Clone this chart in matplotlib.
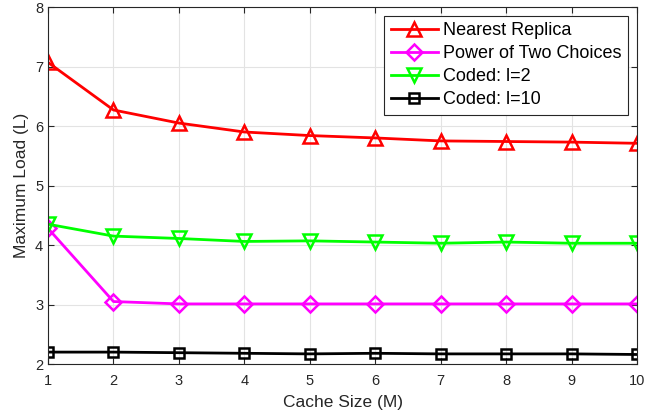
import matplotlib.pyplot as plt

plt.rcParams['font.family'] = ['Liberation Sans', 'DejaVu Sans']

cache_size = [1, 2, 3, 4, 5, 6, 7, 8, 9, 10]
nearest_replica = [7.07, 6.27, 6.05, 5.90, 5.84, 5.80, 5.75, 5.74, 5.73, 5.71]
power_two = [4.28, 3.05, 3.01, 3.01, 3.01, 3.01, 3.01, 3.01, 3.01, 3.01]
coded_l2 = [4.35, 4.15, 4.11, 4.06, 4.07, 4.05, 4.03, 4.05, 4.03, 4.03]
coded_l10 = [2.20, 2.20, 2.19, 2.18, 2.17, 2.18, 2.17, 2.17, 2.17, 2.16]

fig = plt.figure(figsize=(6.67, 4.16), dpi=100)
ax = fig.add_axes([0.072, 0.125, 0.883, 0.858])

mk = dict(linewidth=2, markersize=10, markerfacecolor='none', markeredgewidth=1.8)
ax.plot(cache_size, nearest_replica, '-^', color='#ff0000', label='Nearest Replica', **mk)
ax.plot(cache_size, power_two, '-D', color='#ff00ff', label='Power of Two Choices',
        **{**mk, 'markersize': 8})
ax.plot(cache_size, coded_l2, '-v', color='#00ff00', label='Coded: l=2', **mk)
ax.plot(cache_size, coded_l10, '-s', color='#000000', label='Coded: l=10',
        **{**mk, 'markersize': 7})

ax.set_xlim(1, 10)
ax.set_ylim(2, 8)
ax.set_xticks(range(1, 11))
ax.set_yticks(range(2, 9))
ax.grid(True, color='#e3e3e3', linewidth=0.8)
ax.set_axisbelow(True)
ax.tick_params(direction='in', top=True, right=True, labelsize=10.5,
               colors='#262626', length=4)
ax.tick_params(axis='x', pad=7)
for s in ax.spines.values():
    s.set_color('#262626')
ax.set_xlabel('Cache Size (M)', fontsize=12.5, color='#262626', labelpad=5)
ax.set_ylabel('Maximum Load (L)', fontsize=12.5, color='#262626', labelpad=4)

leg = ax.legend(loc='upper right', fontsize=13, fancybox=False, framealpha=1,
                edgecolor='#262626', handlelength=2.6, borderaxespad=0.5,
                labelspacing=0.33, handletextpad=0.3, borderpad=0.35)
leg.get_frame().set_linewidth(0.8)

fig.savefig('out.png', dpi=100)
